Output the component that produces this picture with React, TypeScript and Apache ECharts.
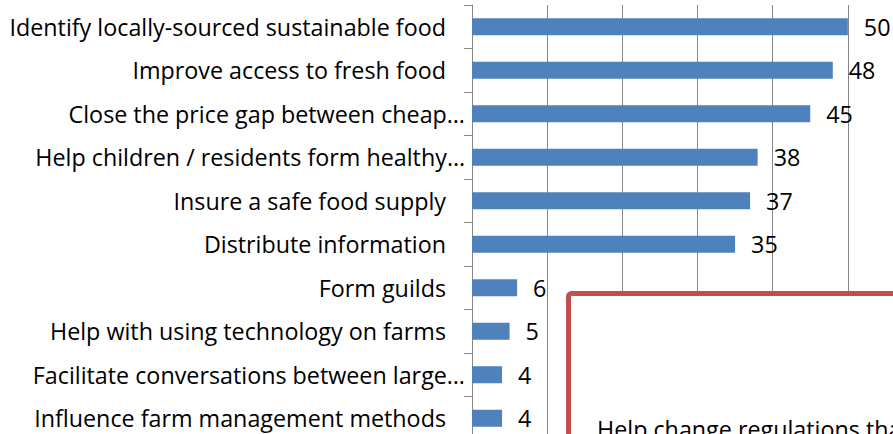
import React, { useEffect, useRef } from "react";
import * as echarts from "echarts";

const categories = [
  "Identify locally-sourced sustainable food",
  "Improve access to fresh food",
  "Close the price gap between cheap…",
  "Help children / residents form healthy…",
  "Insure a safe food supply",
  "Distribute information",
  "Form guilds",
  "Help with using technology on farms",
  "Facilitate conversations between large…",
  "Influence farm management methods",
];
const values = [50, 48, 45, 38, 37, 35, 6, 5, 4, 4];
const boxText = "Help change regulations that";

const FONT = "'Open Sans', 'Noto Sans', sans-serif";
const FS = 23.3;

export default function App() {
  const ref = useRef<HTMLDivElement>(null);
  useEffect(() => {
    if (!ref.current) return;
    const chart = echarts.init(ref.current, null, { renderer: "svg" });
    chart.setOption({
      animation: false,
      backgroundColor: "#ffffff",
      grid: { left: 472, right: 0, top: 5, bottom: 2, containLabel: false },
      xAxis: {
        type: "value",
        min: 0,
        max: 60,
        interval: 10,
        axisLabel: { show: false },
        axisLine: { show: false },
        axisTick: { show: false },
        splitLine: { show: true, lineStyle: { color: "#868686", width: 1 } },
      },
      yAxis: {
        type: "category",
        inverse: true,
        data: categories,
        axisLine: { show: true, lineStyle: { color: "#868686", width: 1 } },
        axisTick: { show: true, length: 8, lineStyle: { color: "#868686", width: 1 } },
        splitLine: { show: false },
        axisLabel: {
          margin: 7,
          color: "#000",
          fontFamily: FONT,
          fontSize: FS,
          formatter: (v: string) => (v.endsWith("…") ? "{e|" + v + "}" : "{f|" + v + "}"),
          rich: {
            e: { fontFamily: FONT, fontSize: FS, color: "#000" },
            f: { fontFamily: FONT, fontSize: FS, color: "#000", padding: [0, 19, 0, 0] },
          },
        },
      },
      series: [
        {
          type: "bar",
          data: values,
          barWidth: 17,
          itemStyle: { color: "#4F81BD" },
          label: {
            show: true,
            position: "right",
            distance: 16,
            color: "#000",
            fontFamily: FONT,
            fontSize: FS,
          },
        },
      ],
      graphic: [
        {
          type: "rect",
          z: 100,
          shape: { x: 568.5, y: 293.5, width: 500, height: 300, r: 3 },
          style: { fill: "#ffffff", stroke: "#C0504D", lineWidth: 5 },
        },
        {
          type: "text",
          z: 101,
          x: 597,
          y: 429,
          style: {
            text: boxText,
            fontFamily: FONT,
            fontSize: FS,
            fill: "#000",
            textAlign: "left",
            textVerticalAlign: "middle",
          },
        },
      ],
    });
    return () => chart.dispose();
  }, []);
  return (
    <div
      ref={ref}
      style={{ position: "fixed", left: 0, top: 0, width: 923, height: 442, background: "#fff" }}
    />
  );
}
